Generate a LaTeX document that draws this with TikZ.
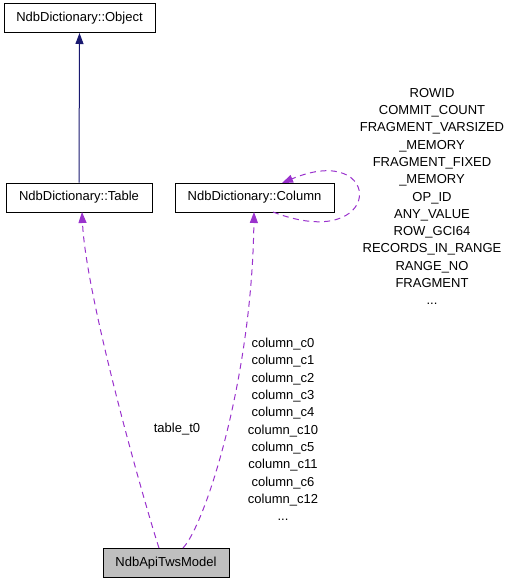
\documentclass[tikz,border=0pt]{standalone}
\usepackage{fontspec}
\setmainfont{Liberation Sans}
\usetikzlibrary{arrows.meta}
\definecolor{usagecol}{HTML}{9A32CD}
\definecolor{inhcol}{HTML}{191970}
\definecolor{boxgray}{HTML}{BFBFBF}
\begin{document}
\begin{tikzpicture}[x=1pt,y=1pt,
  every node/.style={font=\fontsize{13}{17.3}\selectfont},
  cls/.style={draw=black,line width=1pt,fill=white,minimum height=29pt,inner sep=0pt,anchor=center},
  usage/.style={draw=usagecol,line width=1pt,dash pattern=on 6pt off 4.5pt,
    -{Triangle[length=11pt,width=8pt,fill=usagecol]}},
  inh/.style={draw=inhcol,line width=1pt,-{Triangle[length=11pt,width=8pt,fill=inhcol]}},
  lbl/.style={align=center,inner sep=0pt}]
\useasboundingbox (0,0) rectangle (513,-584);
\node[cls,minimum width=151pt] (obj) at (79.5,-18) {NdbDictionary::Object};
\node[cls,minimum width=146pt] (tbl) at (79,-197.5) {NdbDictionary::Table};
\node[cls,minimum width=159pt] (col) at (254.5,-197.5) {NdbDictionary::Column};
\node[cls,minimum width=126pt,fill=boxgray] (model) at (166,-563) {NdbApiTwsModel};
\coordinate (tblin) at (82,-212);
\coordinate (colin) at (254,-212);
\coordinate (mtl) at (159,-548);
\coordinate (mtr) at (183,-548);
\coordinate (selfout) at (273,-212);
\coordinate (selfin) at (282,-183);
\draw[inh] (tbl.north) -- (obj.south);
\draw[usage] (mtl) .. controls (148,-515) and (86,-300) .. (tblin);
\draw[usage] (mtr) .. controls (205,-525) and (252,-380) .. (colin);
\draw[usage] (selfout) .. controls (385,-255) and (385,-140) .. (selfin);
\node[lbl] (lblt) at (177,-429) {table\_t0};
\node[lbl,anchor=north] (lblc) at (283,-338) {column\_c0\\column\_c1\\column\_c2\\column\_c3\\column\_c4\\column\_c10\\column\_c5\\column\_c11\\column\_c6\\column\_c12\\...};
\node[lbl,anchor=north] (lblself) at (432,-88) {ROWID\\COMMIT\_COUNT\\FRAGMENT\_VARSIZED\\\_MEMORY\\FRAGMENT\_FIXED\\\_MEMORY\\OP\_ID\\ANY\_VALUE\\ROW\_GCI64\\RECORDS\_IN\_RANGE\\RANGE\_NO\\FRAGMENT\\...};
\end{tikzpicture}
\end{document}
